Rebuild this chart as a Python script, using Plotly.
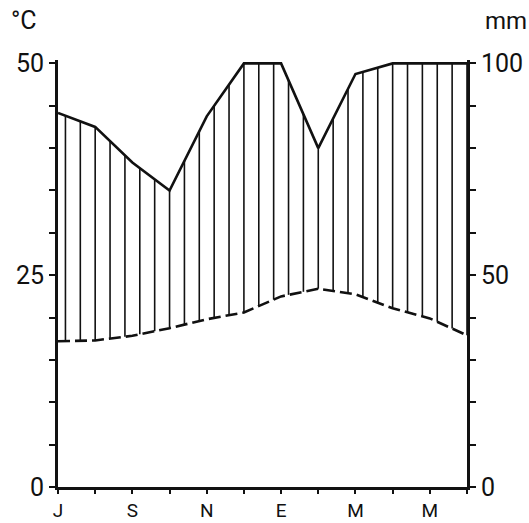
import numpy as np
import plotly.graph_objects as go

# Monthly climate normals, July to June (southern-hemisphere station)
months = ["Jul", "Aug", "Sep", "Oct", "Nov", "Dec", "Jan", "Feb", "Mar", "Apr", "May", "Jun"]
month_letters = ["J", "", "S", "", "N", "", "E", "", "M", "", "M", ""]
temperature_c = [17.2, 17.3, 17.85, 18.75, 19.8, 20.6, 22.5, 23.4, 22.75, 21.1, 19.9, 17.9]
precip_mm = [88.3, 85.0, 76.6, 70.0, 87.5, 100.0, 100.0, 80.0, 97.5, 100.0, 100.0, 100.0]

temp_ticks = [0, 5, 10, 15, 20, 25, 30, 35, 40, 45, 50]
temp_tick_text = ["0", "", "", "", "", "25", "", "", "", "", "50"]
precip_ticks = [0, 10, 20, 30, 40, 50, 60, 70, 80, 90, 100]
precip_tick_text = ["0", "", "", "", "", "50", "", "", "", "", "100"]

FONT = "Roboto"
INK = "#111111"

x = np.arange(len(months))

# Vertical hatching for the humid period: between the temperature curve
# (1 °C = 2 mm) and the precipitation curve.
hatch_x = np.arange(0.2, len(months) - 1 + 1e-9, 0.4)
t_mm = 2 * np.interp(hatch_x, x, temperature_c)
p_mm = np.interp(hatch_x, x, precip_mm)
hx, hy = [], []
for xi, lo, hi in zip(hatch_x, t_mm, p_mm):
    if hi > lo:
        hx += [xi, xi, None]
        hy += [lo, hi, None]

fig = go.Figure()
fig.add_trace(go.Scatter(x=hx, y=hy, mode="lines", yaxis="y2",
                         line=dict(color=INK, width=1.6), hoverinfo="skip",
                         showlegend=False))
fig.add_trace(go.Scatter(x=x, y=precip_mm, mode="lines", yaxis="y2",
                         line=dict(color=INK, width=2.6), name="Precipitation",
                         showlegend=False))
fig.add_trace(go.Scatter(x=x, y=temperature_c, mode="lines", yaxis="y",
                         line=dict(color=INK, width=2.6, dash="12px,5px"),
                         name="Temperature", showlegend=False))

axis_font = dict(family=FONT, size=25, color=INK)
fig.update_layout(
    width=529, height=523,
    margin=dict(l=58, r=62, t=60, b=36, autoexpand=False),
    paper_bgcolor="white", plot_bgcolor="white",
    xaxis=dict(range=[0, 11], tickmode="array", tickvals=list(x),
               ticktext=month_letters, ticks="outside", ticklen=4,
               tickwidth=2, tickcolor=INK, showline=True, linewidth=3,
               linecolor=INK, showgrid=False, zeroline=False,
               tickfont=dict(family=FONT, size=19, color=INK),
               ticklabelstandoff=0, fixedrange=True),
    yaxis=dict(range=[0, 50.4], tickmode="array", tickvals=temp_ticks,
               ticktext=temp_tick_text, ticks="outside", ticklen=6,
               tickwidth=2, tickcolor=INK, showline=True, linewidth=3,
               linecolor=INK, showgrid=False, zeroline=False,
               tickfont=axis_font, fixedrange=True),
    yaxis2=dict(range=[0, 100.8], overlaying="y", side="right", anchor="x",
                tickmode="array", tickvals=precip_ticks,
                ticktext=precip_tick_text, ticks="outside", ticklen=6,
                tickwidth=2, tickcolor=INK, showline=True, linewidth=3,
                linecolor=INK, showgrid=False, zeroline=False,
                tickfont=axis_font, fixedrange=True),
    annotations=[
        dict(text="°C", xref="paper", yref="paper", x=-0.082, y=1.055,
             xanchor="center", yanchor="bottom", showarrow=False,
             font=dict(family=FONT, size=25, color=INK)),
        dict(text="mm", xref="paper", yref="paper", x=1.095, y=1.055,
             xanchor="center", yanchor="bottom", showarrow=False,
             font=dict(family=FONT, size=24, color=INK)),
    ],
)

fig.write_html("out.html")
